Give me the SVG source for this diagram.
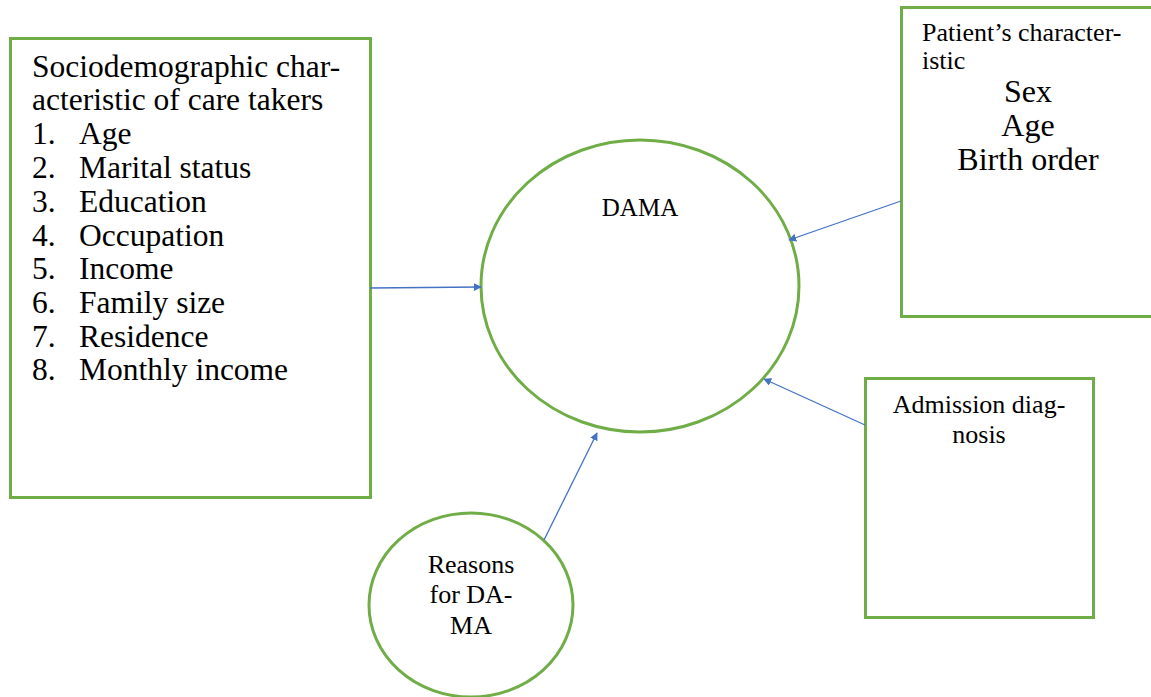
<svg xmlns="http://www.w3.org/2000/svg" width="1151" height="697" viewBox="0 0 1151 697">
<style>
.box{fill:#fff;stroke:#70AD47;stroke-width:3}
.conn{stroke:#4472C4;stroke-width:1.3;fill:none}
.t{font-family:'Liberation Serif','Times New Roman',serif;fill:#000}
.l{font-size:31.5px}
.p{font-size:26px}
.q{font-size:32px}
</style>
<defs>
<marker id="arr" viewBox="0 0 10 10" refX="9" refY="5" markerWidth="8" markerHeight="8" orient="auto" markerUnits="userSpaceOnUse">
<path d="M0,0 L10,5 L0,10 z" fill="#4472C4"/>
</marker>
</defs>
<rect width="1151" height="697" fill="#fff"/>
<g id="sociodemographic">
<rect class="box" x="10.5" y="38.5" width="360" height="459"/>
<text class="t l" x="32" y="77">Sociodemographic char-</text>
<text class="t l" x="32" y="110">acteristic of care takers</text>
<text class="t l" x="32" y="144">1.</text><text class="t l" x="79" y="144">Age</text>
<text class="t l" x="32" y="178">2.</text><text class="t l" x="79" y="178">Marital status</text>
<text class="t l" x="32" y="212">3.</text><text class="t l" x="79" y="212">Education</text>
<text class="t l" x="32" y="246">4.</text><text class="t l" x="79" y="246">Occupation</text>
<text class="t l" x="32" y="279">5.</text><text class="t l" x="79" y="279">Income</text>
<text class="t l" x="32" y="313">6.</text><text class="t l" x="79" y="313">Family size</text>
<text class="t l" x="32" y="347">7.</text><text class="t l" x="79" y="347">Residence</text>
<text class="t l" x="32" y="380">8.</text><text class="t l" x="79" y="380">Monthly income</text>
</g>
<g id="patient">
<rect class="box" x="901.5" y="7.5" width="260" height="309"/>
<text class="t p" x="922" y="41">Patient’s character-</text>
<text class="t p" x="922" y="69">istic</text>
<text class="t q" x="1028" y="102" text-anchor="middle">Sex</text>
<text class="t q" x="1028" y="136" text-anchor="middle">Age</text>
<text class="t q" x="1028" y="170" text-anchor="middle">Birth order</text>
</g>
<g id="dama">
<ellipse class="box" cx="640" cy="286" rx="159" ry="146"/>
<text class="t" font-size="25" x="640" y="216" text-anchor="middle">DAMA</text>
</g>
<g id="admission">
<rect class="box" x="865.5" y="378.5" width="228" height="239"/>
<text class="t p" x="979" y="413" text-anchor="middle">Admission diag-</text>
<text class="t p" x="979" y="443" text-anchor="middle">nosis</text>
</g>
<g id="reasons">
<ellipse class="box" cx="471" cy="605" rx="102" ry="92"/>
<text class="t p" x="471" y="573" text-anchor="middle">Reasons</text>
<text class="t p" x="471" y="603" text-anchor="middle">for DA-</text>
<text class="t p" x="471" y="634" text-anchor="middle">MA</text>
</g>
<g id="connectors">
<line class="conn" x1="370" y1="288" x2="481" y2="287" marker-end="url(#arr)"/>
<line class="conn" x1="901" y1="201" x2="789" y2="240" marker-end="url(#arr)"/>
<line class="conn" x1="865" y1="425" x2="764" y2="379" marker-end="url(#arr)"/>
<line class="conn" x1="544" y1="540" x2="597" y2="433" marker-end="url(#arr)"/>
</g>
</svg>
